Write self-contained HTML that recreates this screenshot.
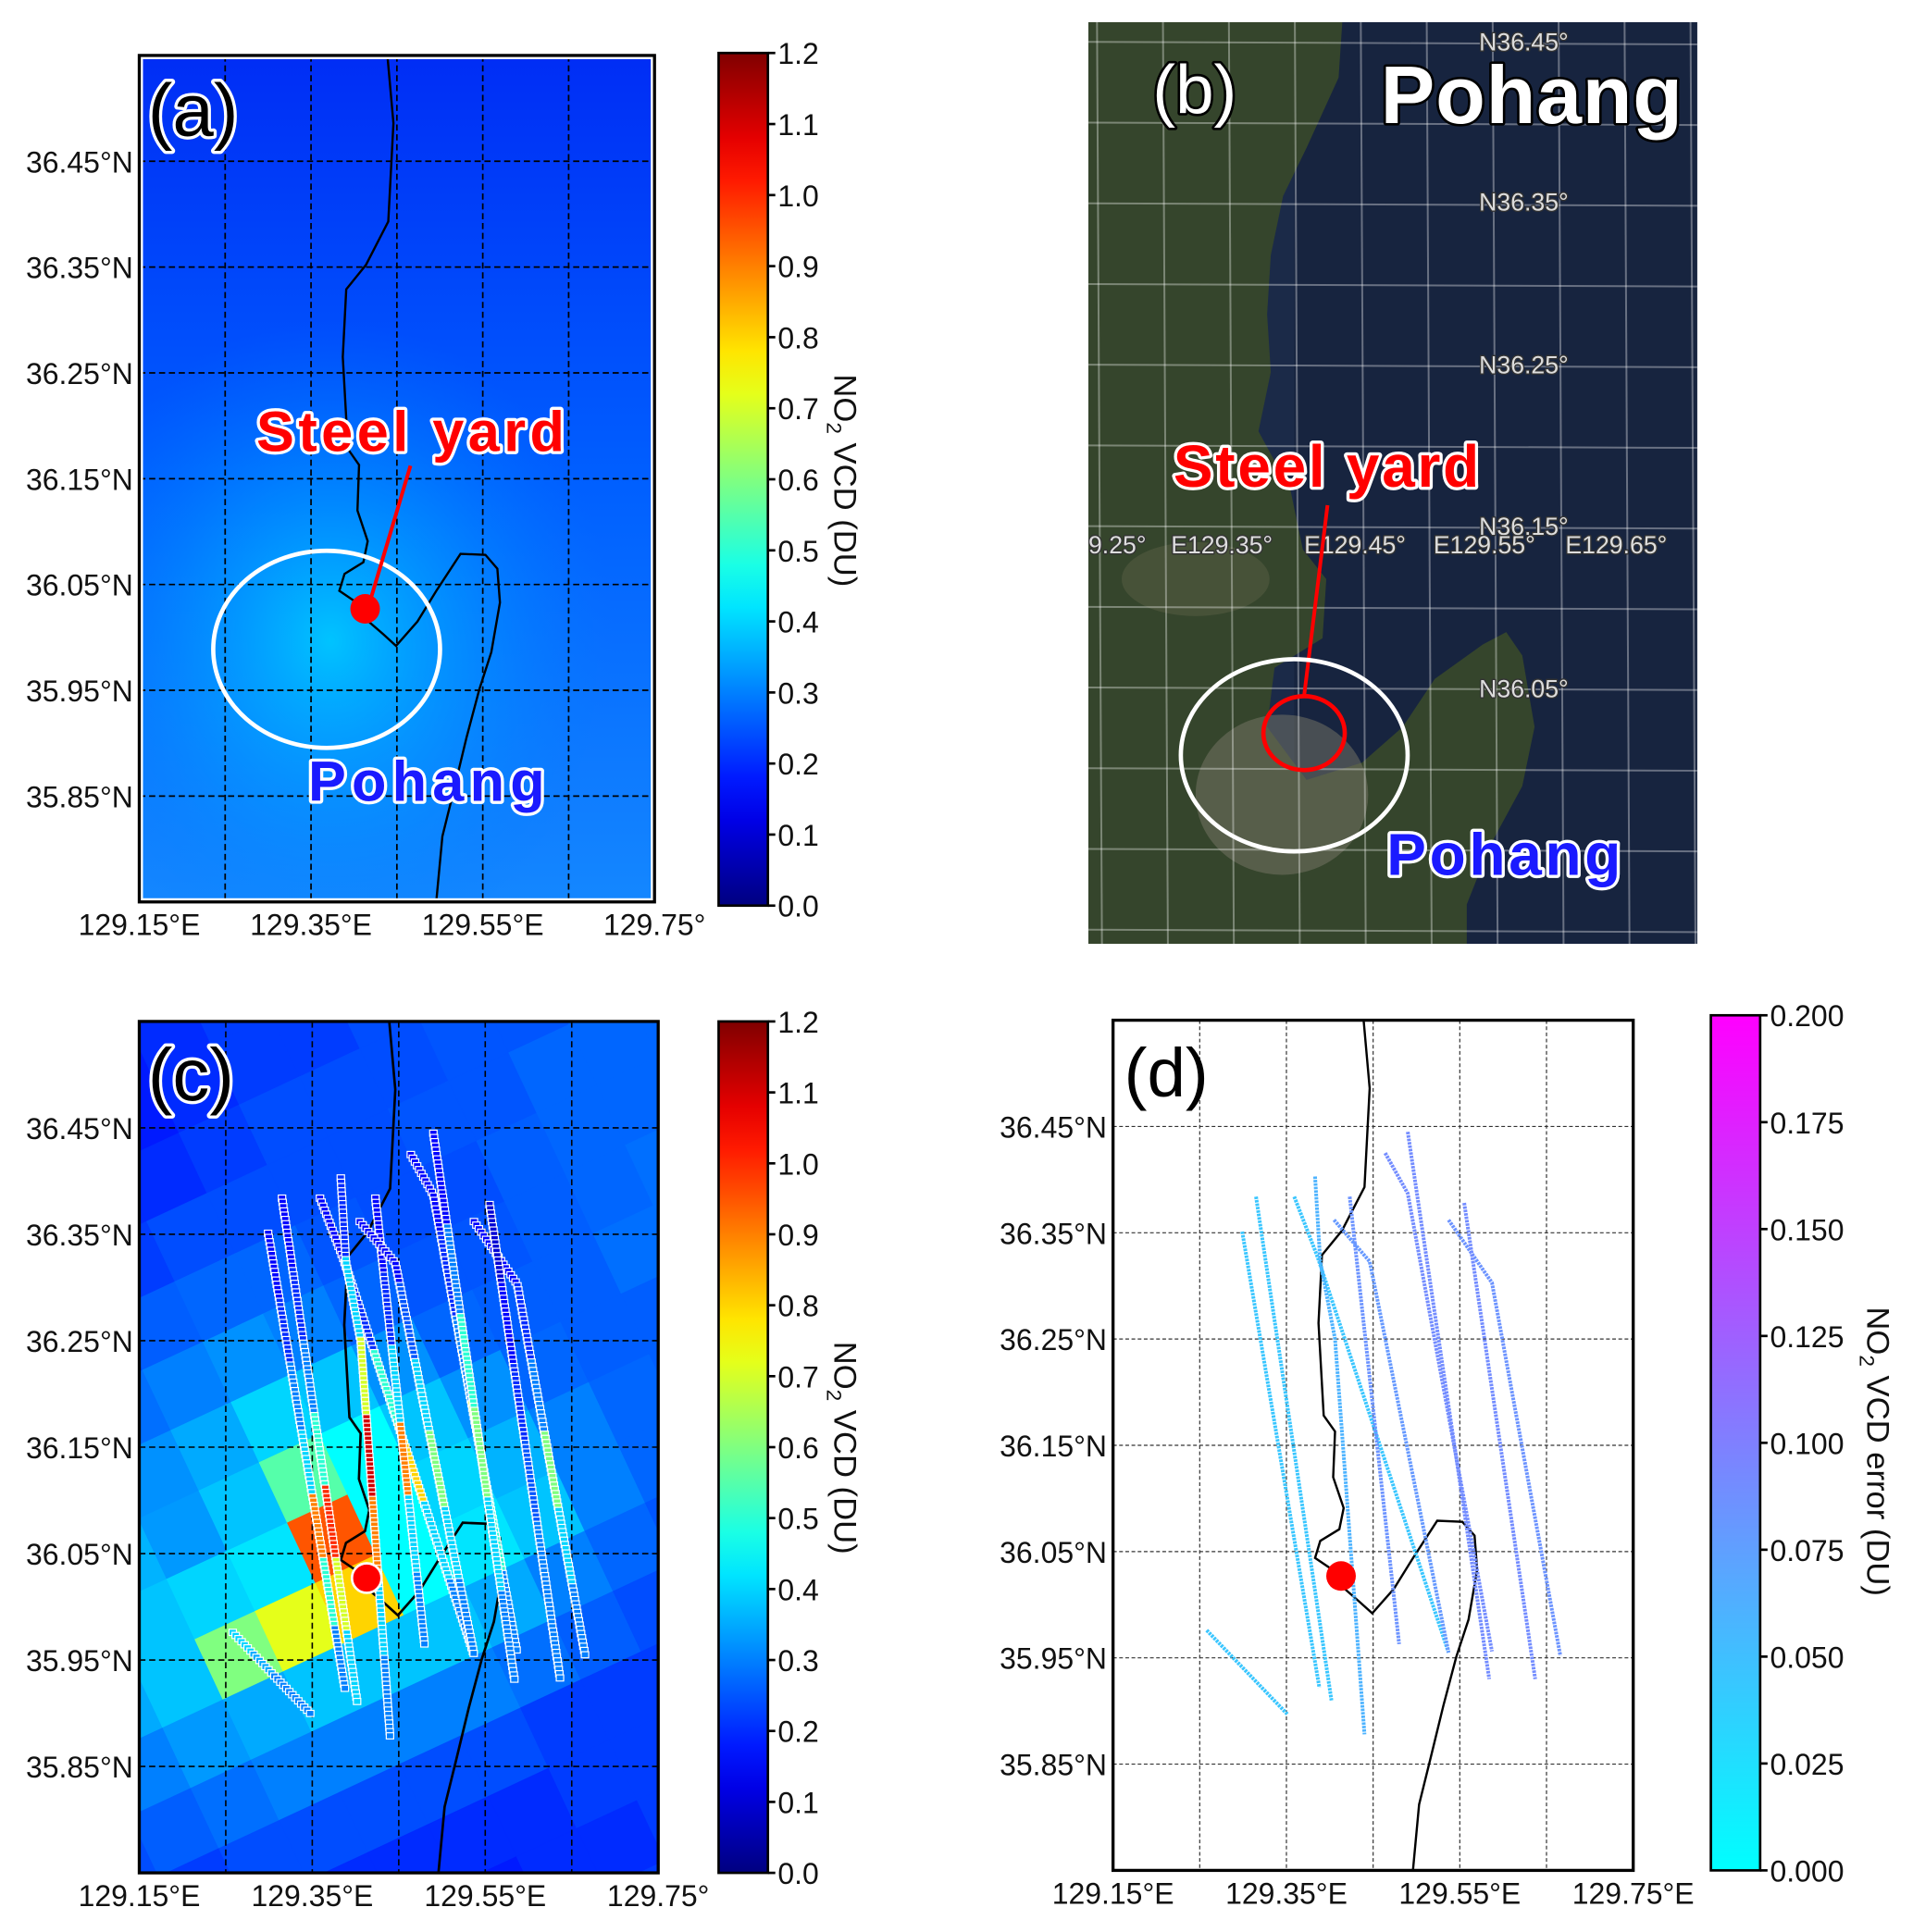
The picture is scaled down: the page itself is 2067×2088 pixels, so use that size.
<!DOCTYPE html>
<html><head><meta charset="utf-8"><style>
html,body{margin:0;padding:0;background:#fff;width:2067px;height:2088px;overflow:hidden;}
svg{display:block;font-family:"Liberation Sans",sans-serif;}
.tk{font-size:24px;fill:#111;}
.ol{paint-order:stroke;stroke-linejoin:round;}
</style></head><body>
<svg id="fig" width="2067" height="2088" viewBox="0 0 1552 1568" preserveAspectRatio="none" xmlns="http://www.w3.org/2000/svg">
<defs>
<linearGradient id="bgA" x1="0" y1="0" x2="0" y2="1"><stop offset="0" stop-color="rgb(0,45,245)"/><stop offset="0.5" stop-color="rgb(0,95,255)"/><stop offset="1" stop-color="rgb(20,135,255)"/></linearGradient>
<radialGradient id="hotA" cx="0.5" cy="0.5" r="0.5"><stop offset="0" stop-color="rgb(0,200,255)" stop-opacity="0.95"/><stop offset="0.5" stop-color="rgb(0,160,255)" stop-opacity="0.5"/><stop offset="1" stop-color="rgb(0,120,255)" stop-opacity="0"/></radialGradient>
<linearGradient id="jetG" x1="0" y1="1" x2="0" y2="0"></linearGradient>
<linearGradient id="coolG" x1="0" y1="1" x2="0" y2="0"><stop offset="0" stop-color="rgb(0,255,255)"/><stop offset="1" stop-color="rgb(255,0,255)"/></linearGradient>
<clipPath id="clipA"><rect x="113" y="45" width="418" height="687"/></clipPath>
<clipPath id="clipC"><rect x="113" y="829" width="421" height="691"/></clipPath>
<clipPath id="clipD"><rect x="903" y="828" width="422" height="690"/></clipPath>
<clipPath id="clipB"><rect x="883" y="18" width="494" height="748"/></clipPath>
</defs>

<g>
<rect x="113" y="45" width="418" height="687" fill="url(#bgA)"/>
<ellipse cx="268" cy="520" rx="230" ry="260" fill="url(#hotA)" clip-path="url(#clipA)"/>
<g id="gridA"></g>
<g id="coastA"></g>
<rect x="114.5" y="46.5" width="415" height="684" fill="none" stroke="#fff" stroke-width="3"/>
<rect x="113" y="45" width="418" height="687" fill="none" stroke="#000" stroke-width="2.5"/>
<ellipse cx="265" cy="527" rx="92" ry="80" fill="none" stroke="#fff" stroke-width="3.5"/>
<line x1="333" y1="378" x2="299" y2="492" stroke="#f00" stroke-width="3"/>
<text x="208" y="366" font-size="46" font-weight="bold" fill="#f00" stroke="#fff" stroke-width="5" class="ol" textLength="250">Steel yard</text>
<text x="250" y="650" font-size="46" font-weight="bold" fill="#1a1aff" stroke="#fff" stroke-width="5" class="ol" textLength="192">Pohang</text>
<text x="120" y="110" font-size="60" fill="#000" stroke="#fff" stroke-width="5" class="ol">(a)</text>
<g id="ticksA"></g>
</g>

<g clip-path="url(#clipB)">
<rect x="883" y="18" width="494" height="748" fill="#1b2a48"/>
<rect x="1050" y="18" width="327" height="748" fill="#15213b" opacity="0.6"/>
<polygon id="landB" fill="#35452c"/>
<ellipse cx="1040" cy="645" rx="70" ry="65" fill="#7a7868" opacity="0.5"/>
<ellipse cx="970" cy="470" rx="60" ry="30" fill="#6a6a50" opacity="0.35"/>
<g id="gridB"></g>
<text x="935" y="92" font-size="56" fill="#fff" stroke="#000" stroke-width="4" class="ol">(b)</text>
<text x="1120" y="100" font-size="66" font-weight="bold" fill="#fff" stroke="#000" stroke-width="4" class="ol" textLength="245">Pohang</text>
<g font-size="20" fill="#ddd" stroke="#333" stroke-width="2" class="ol">
<text x="1200" y="41">N36.45°</text><text x="1200" y="171">N36.35°</text><text x="1200" y="303">N36.25°</text><text x="1200" y="434">N36.15°</text><text x="1200" y="566">N36.05°</text>
<text x="883" y="449">9.25°</text><text x="950" y="449">E129.35°</text><text x="1058" y="449">E129.45°</text><text x="1163" y="449">E129.55°</text><text x="1270" y="449">E129.65°</text>
</g>
<text x="952" y="395" font-size="48" font-weight="bold" fill="#f00" stroke="#fff" stroke-width="5" class="ol" textLength="248">Steel yard</text>
<line x1="1077" y1="410" x2="1058" y2="565" stroke="#f00" stroke-width="3"/>
<ellipse cx="1058" cy="595" rx="33" ry="30" fill="none" stroke="#f00" stroke-width="3.5"/>
<ellipse cx="1050" cy="613" rx="92" ry="78" fill="none" stroke="#fff" stroke-width="3.5"/>
<text x="1125" y="710" font-size="48" font-weight="bold" fill="#1a1aff" stroke="#fff" stroke-width="5" class="ol" textLength="190">Pohang</text>
</g>

<g>
<rect x="113" y="829" width="421" height="691" fill="#fff"/>
<g id="cellsC" clip-path="url(#clipC)"></g>
<g id="gridC"></g>
<g id="coastC"></g>
<g id="tracksC" clip-path="url(#clipC)"></g>
<rect x="113" y="829" width="421" height="691" fill="none" stroke="#000" stroke-width="2.5"/>
<text x="120" y="893" font-size="60" fill="#000" stroke="#fff" stroke-width="5" class="ol">(c)</text>
<g id="ticksC"></g>
</g>

<g>
<g id="gridD"></g>
<g id="coastD"></g>
<g id="tracksD" clip-path="url(#clipD)"></g>
<rect x="903" y="828" width="422" height="690" fill="none" stroke="#000" stroke-width="2.5"/>
<text x="912" y="890" font-size="56" fill="#000">(d)</text>
<g id="ticksD"></g>
</g>

<g>
<rect x="583" y="43" width="40" height="692" fill="url(#jetG)" stroke="#000" stroke-width="2"/>
<g id="cbTicksA"></g>
<text transform="translate(677,390) rotate(90)" font-size="26" text-anchor="middle" fill="#111">NO<tspan font-size="17" dy="6">2</tspan><tspan dy="-6"> VCD (DU)</tspan></text>
</g>
<g>
<rect x="583" y="829" width="40" height="691" fill="url(#jetG)" stroke="#000" stroke-width="2"/>
<g id="cbTicksC"></g>
<text transform="translate(677,1175) rotate(90)" font-size="26" text-anchor="middle" fill="#111">NO<tspan font-size="17" dy="6">2</tspan><tspan dy="-6"> VCD (DU)</tspan></text>
</g>
<g>
<rect x="1388" y="824" width="40" height="694" fill="url(#coolG)" stroke="#000" stroke-width="2"/>
<g id="cbTicksD"></g>
<text transform="translate(1515,1178) rotate(90)" font-size="26" text-anchor="middle" fill="#111">NO<tspan font-size="17" dy="6">2</tspan><tspan dy="-6"> VCD error (DU)</tspan></text>
</g>
</svg>
<script>
const lonTicks = [129.15, 129.35, 129.55, 129.75];
const lonTickLabelsAC = ["129.15°E", "129.35°E", "129.55°E", "129.75°"];
const lonTickLabelsD = ["129.15°E", "129.35°E", "129.55°E", "129.75°E"];
const latTicks = [36.45, 36.35, 36.25, 36.15, 36.05, 35.95, 35.85];
const latTickLabels = ["36.45°N", "36.35°N", "36.25°N", "36.15°N", "36.05°N", "35.95°N", "35.85°N"];
const gridLons = [129.25, 129.35, 129.45, 129.55, 129.65];
const no2Ticks = [0.0, 0.1, 0.2, 0.3, 0.4, 0.5, 0.6, 0.7, 0.8, 0.9, 1.0, 1.1, 1.2];
const errTicks = [0.000, 0.025, 0.050, 0.075, 0.100, 0.125, 0.150, 0.175, 0.200];
const coastLon = [129.439,129.446,129.440,129.414,129.391,129.387,129.393,129.406,129.404,129.416,129.411,129.389,129.383,129.403,129.417,129.434,129.449,129.474,129.496,129.524,129.553,129.567,129.570,129.560,129.546,129.531,129.517,129.503,129.496];
const coastLat = [36.55,36.486,36.393,36.352,36.329,36.265,36.178,36.163,36.12,36.091,36.071,36.06,36.044,36.033,36.015,36.003,35.992,36.015,36.044,36.079,36.078,36.065,36.033,35.986,35.951,35.905,35.858,35.812,35.751];
const siteLon = 129.413, siteLat = 36.027;
const pixelOriginLon = 129.3725, pixelOriginLat = 36.0637;
const pixelNO2 = [
[.14,.14,.14,.14,.14,.14,.14,.16,.16,.18,.2,.2,.22,.22,.22,null],
[.14,.14,.14,.14,.14,.14,.16,.18,.18,.2,.22,.22,.24,.24,.24,null],
[.16,.16,.16,.16,.15,.15,.18,.2,.22,.22,.24,.24,.24,.25,.25,null],
[.2,.2,.2,.2,.18,.18,.18,.2,.22,.22,.24,.25,.25,.25,.25,null],
[.22,.22,.22,.22,.2,.2,.2,.22,.24,.24,.24,.25,.25,.27,.27,.27],
[.22,.22,.22,.22,.22,.22,.24,.24,.24,.24,.25,.25,.27,.27,.27,null],
[.23,.23,.23,.24,.24,.26,.27,.27,.25,.24,.24,.26,.27,.27,.28,.28],
[.24,.24,.24,.26,.28,.3,.32,.3,.27,.25,.25,.26,.27,.28,.28,null],
[.26,.26,.28,.3,.32,.35,.4,.38,.32,.27,.26,.26,.28,.28,.3,.3],
[.3,.32,.34,.36,.33,.38,.55,.45,.38,.32,.27,.26,.26,.28,.3,null],
[.32,.34,.36,.38,.4,.42,.95,.45,.4,.36,.3,.27,.26,.26,.28,.28],
[.3,.32,.35,.38,.6,.72,.8,.45,.42,.38,.3,.27,.25,.25,.26,.26],
[.27,.28,.3,.33,.35,.38,.38,.38,.35,.3,.27,.25,.24,.24,.24,null],
[.24,.24,.26,.28,.3,.3,.3,.3,.28,.26,.24,.23,.22,.22,.22,.22],
[.22,.22,.22,.24,.24,.24,.24,.24,.22,.22,.22,.22,.22,.22,.22,null],
[.2,.2,.22,.22,.2,.2,.2,.2,.22,.22,.22,.22,.22,.22,.22,.22],
[null,.2,.2,.2,.18,.18,.18,.2,.2,.22,.22,.22,.22,.22,.22,null],
[null,null,.22,.22,.22,.2,.2,.2,.22,.22,.22,.22,.22,.22,.22,.22],
[null,null,null,.22,.22,.22,.22,.22,.22,.22,.22,.22,.22,.22,.22,.22]];
const trackLons = [
[129.299,129.388],[129.315,129.402],[129.359,129.386,129.537],[129.383,129.389,129.406,129.44],
[129.423,129.48],[129.405,129.446,129.537],[129.464,129.49,129.587],[129.49,129.584],
[129.537,129.587,129.666],[129.555,129.637],[129.258,129.351]];
const trackLats = [
[36.351,35.922],[36.384,35.91],[36.384,36.327,35.955],[36.403,36.323,36.25,35.878],
[36.384,35.963],[36.362,36.323,35.955],[36.425,36.387,35.956],[36.445,35.93],
[36.362,36.303,35.952],[36.378,35.93],[35.976,35.897]];
const trackNO2 = [
[0.15,0.2,0.3,0.4,0.9,0.5,0.3],[0.15,0.2,0.3,0.5,1.0,0.7,0.4],[0.15,0.2,0.5,0.8,0.4,0.3],
[0.2,0.4,0.7,1.1,0.9,0.4,0.3],[0.15,0.2,0.4,0.9,0.4,0.3],[0.15,0.25,0.4,0.6,0.4,0.3],
[0.15,0.2,0.3,0.7,0.5,0.3],[0.15,0.3,0.5,0.6,0.4,0.3],[0.15,0.2,0.3,0.6,0.4,0.3],
[0.1,0.15,0.2,0.25,0.3,0.3],[0.4,0.35,0.3,0.3]];
const trackErr = [0.045,0.045,0.045,0.06,0.085,0.08,0.09,0.09,0.085,0.09,0.045];
const landBX = [883,1089,1086,1060,1041,1031,1028,1031,1021,1047,1057,1076,1073,1034,1028,1060,1105,1138,1164,1203,1222,1235,1245,1235,1209,1190,1190,883];
const landBY = [18,18,63,120,159,207,255,302,350,398,446,470,518,542,590,633,619,590,551,523,513,532,590,638,686,734,766,766];

const NS = "http://www.w3.org/2000/svg";
function mk(tag, attrs, parent){ const e=document.createElementNS(NS,tag); for(const k in attrs) e.setAttribute(k,attrs[k]); parent.appendChild(e); return e; }
function cl(v){return Math.max(0,Math.min(1,v));}
function jet(t){ t=cl(t); return `rgb(${Math.round(255*cl(1.5-Math.abs(4*t-3)))},${Math.round(255*cl(1.5-Math.abs(4*t-2)))},${Math.round(255*cl(1.5-Math.abs(4*t-1)))})`; }
function cool(t){ t=cl(t); return `rgb(${Math.round(255*t)},${Math.round(255*(1-t))},255)`; }
function axes(p){ return { X: lon => p.x0+(lon-129.15)/0.6*(p.x1-p.x0), Y: lat => p.y0+(36.55-lat)/0.8*(p.y1-p.y0) }; }
const PA={x0:113,x1:531,y0:45,y1:732}, PC={x0:113,x1:534,y0:829,y1:1520}, PD={x0:903,x1:1325,y0:828,y1:1518};
const $=id=>document.getElementById(id);

const jg=$("jetG");
for(let i=0;i<=20;i++){ mk("stop",{offset:i/20,"stop-color":jet(i/20)},jg); }

function drawGrid(p, g, dash, col, sw){
  const a=axes(p);
  gridLons.forEach(lon=>{ const l=mk("line",{x1:a.X(lon),x2:a.X(lon),y1:p.y0,y2:p.y1,stroke:col,"stroke-width":sw,"stroke-dasharray":dash},g);
    
     });
  latTicks.forEach(lat=>{ const l=mk("line",{x1:p.x0,x2:p.x1,y1:a.Y(lat),y2:a.Y(lat),stroke:col,"stroke-width":sw,"stroke-dasharray":dash},g);
    
     });
}
function drawCoast(p,g,sw){
  const a=axes(p);
  const pts=coastLon.map((lon,i)=>a.X(lon).toFixed(1)+","+a.Y(coastLat[i]).toFixed(1)).join(" ");
  const pl=mk("polyline",{points:pts,fill:"none",stroke:"#000","stroke-width":sw},g);
  
  
}
function drawTicks(p,g,labels){
  const a=axes(p);
  lonTicks.forEach((lon,i)=>{ const t=mk("text",{x:a.X(lon),y:p.y1+27,"text-anchor":"middle",class:"tk"},g); t.textContent=labels[i];
    
     });
  latTicks.forEach((lat,i)=>{ const t=mk("text",{x:p.x0-5,y:a.Y(lat)+9,"text-anchor":"end",class:"tk"},g); t.textContent=latTickLabels[i];
    
     });
}
function drawCbTicks(g,y0,y1,x,ticks,vmax,dec){
  ticks.forEach(v=>{ const y=y1-(v/vmax)*(y1-y0);
    const l=mk("line",{x1:x,x2:x+6,y1:y,y2:y,stroke:"#000","stroke-width":2},g);
    
    
    const t=mk("text",{x:x+8,y:y+9,class:"tk"},g); t.textContent=v.toFixed(dec);
    
     });
}

drawGrid(PA,$("gridA"),"5,3","#000",1.3);
drawCoast(PA,$("coastA"),1.8);
drawTicks(PA,$("ticksA"),lonTickLabelsAC);
{ const a=axes(PA); const d=mk("circle",{cx:a.X(siteLon),cy:a.Y(siteLat),r:12,fill:"#f00"},$("coastA"));
  
   }

$("landB").setAttribute("points", landBX.map((x,i)=>x+","+landBY[i]).join(" "));
{ const g=$("gridB");
  for(let y=34;y<766;y+=65.5){ const l=mk("line",{x1:883,x2:1377,y1:y,y2:y+2,stroke:"rgba(255,255,255,0.35)","stroke-width":1.5},g);
    
     }
  for(let x=890;x<1377;x+=53.5){ const l=mk("line",{x1:x,x2:x+4,y1:18,y2:766,stroke:"rgba(255,255,255,0.35)","stroke-width":1.5},g);
    
     }
}

{ const a=axes(PC), g=$("cellsC"); const ox=a.X(pixelOriginLon), oy=a.Y(pixelOriginLat);
  const s=54, th=25*Math.PI/180, ux=Math.cos(th), uy=-Math.sin(th), vx=Math.sin(th), vy=Math.cos(th);
  pixelNO2.forEach((row,ri)=>{ const i=ri-10; row.forEach((v,ci)=>{ if(v===null) return; const j=ci-6;
    const cx=ox+j*s*ux+i*s*vx, cy=oy+j*s*uy+i*s*vy;
    const c=[[-.5,-.5],[.5,-.5],[.5,.5],[-.5,.5]].map(([a1,b1])=>(cx+a1*s*ux+b1*s*vx).toFixed(1)+","+(cy+a1*s*uy+b1*s*vy).toFixed(1)).join(" ");
    const p=mk("polygon",{points:c,fill:jet(v/1.2),stroke:jet(v/1.2),"stroke-width":0.6},g);
    
     }); });
}
drawGrid(PC,$("gridC"),"5,3","#000",1.2);
drawCoast(PC,$("coastC"),2);
drawTicks(PC,$("ticksC"),lonTickLabelsAC);

function trackPoints(p,k,step){
  const a=axes(p); const xs=trackLons[k].map(a.X), ys=trackLats[k].map(a.Y);
  let segs=[],tot=0; for(let i=0;i<xs.length-1;i++){const L=Math.hypot(xs[i+1]-xs[i],ys[i+1]-ys[i]); segs.push(L); tot+=L;}
  const out=[]; for(let d=0; d<=tot; d+=step){ let r=d,i=0; while(i<segs.length-1&&r>segs[i]){r-=segs[i];i++;} const f=segs[i]?Math.min(1,r/segs[i]):0;
    out.push([xs[i]+(xs[i+1]-xs[i])*f, ys[i]+(ys[i+1]-ys[i])*f, d/tot]); }
  return out;
}
trackLons.forEach((_,k)=>{ const g=$("tracksC"); const vals=trackNO2[k];
  const tg=mk("g",{},g);
  
  
  trackPoints(PC,k,3.5).forEach(([x,y,f])=>{ const v=vals[Math.min(vals.length-1,Math.floor(f*vals.length))];
    const r=mk("rect",{x:(x-3).toFixed(1),y:(y-2.5).toFixed(1),width:6,height:5,fill:jet(v/1.2),stroke:"#fff","stroke-width":0.9},tg);
    
     }); });
{ const a=axes(PC); const d=mk("circle",{cx:a.X(siteLon),cy:a.Y(siteLat),r:12,fill:"#f00",stroke:"#fff","stroke-width":2},$("tracksC"));
  
   }

drawGrid(PD,$("gridD"),"3,2","#333",0.9);
drawCoast(PD,$("coastD"),1.8);
drawTicks(PD,$("ticksD"),lonTickLabelsD);
trackLons.forEach((_,k)=>{ const a=axes(PD);
  const pts=trackLons[k].map((lon,i)=>a.X(lon).toFixed(1)+","+a.Y(trackLats[k][i]).toFixed(1)).join(" ");
  const pl=mk("polyline",{points:pts,fill:"none",stroke:cool(trackErr[k]/0.2),"stroke-width":3,"stroke-dasharray":"2,0.8"},$("tracksD"));
  
   });
{ const a=axes(PD); const d=mk("circle",{cx:a.X(siteLon),cy:a.Y(siteLat),r:12,fill:"#f00"},$("tracksD"));
  
   }

drawCbTicks($("cbTicksA"),43,735,623,no2Ticks,1.2,1);
drawCbTicks($("cbTicksC"),829,1520,623,no2Ticks,1.2,1);
drawCbTicks($("cbTicksD"),824,1518,1428,errTicks,0.2,3);
</script>
</body></html>
